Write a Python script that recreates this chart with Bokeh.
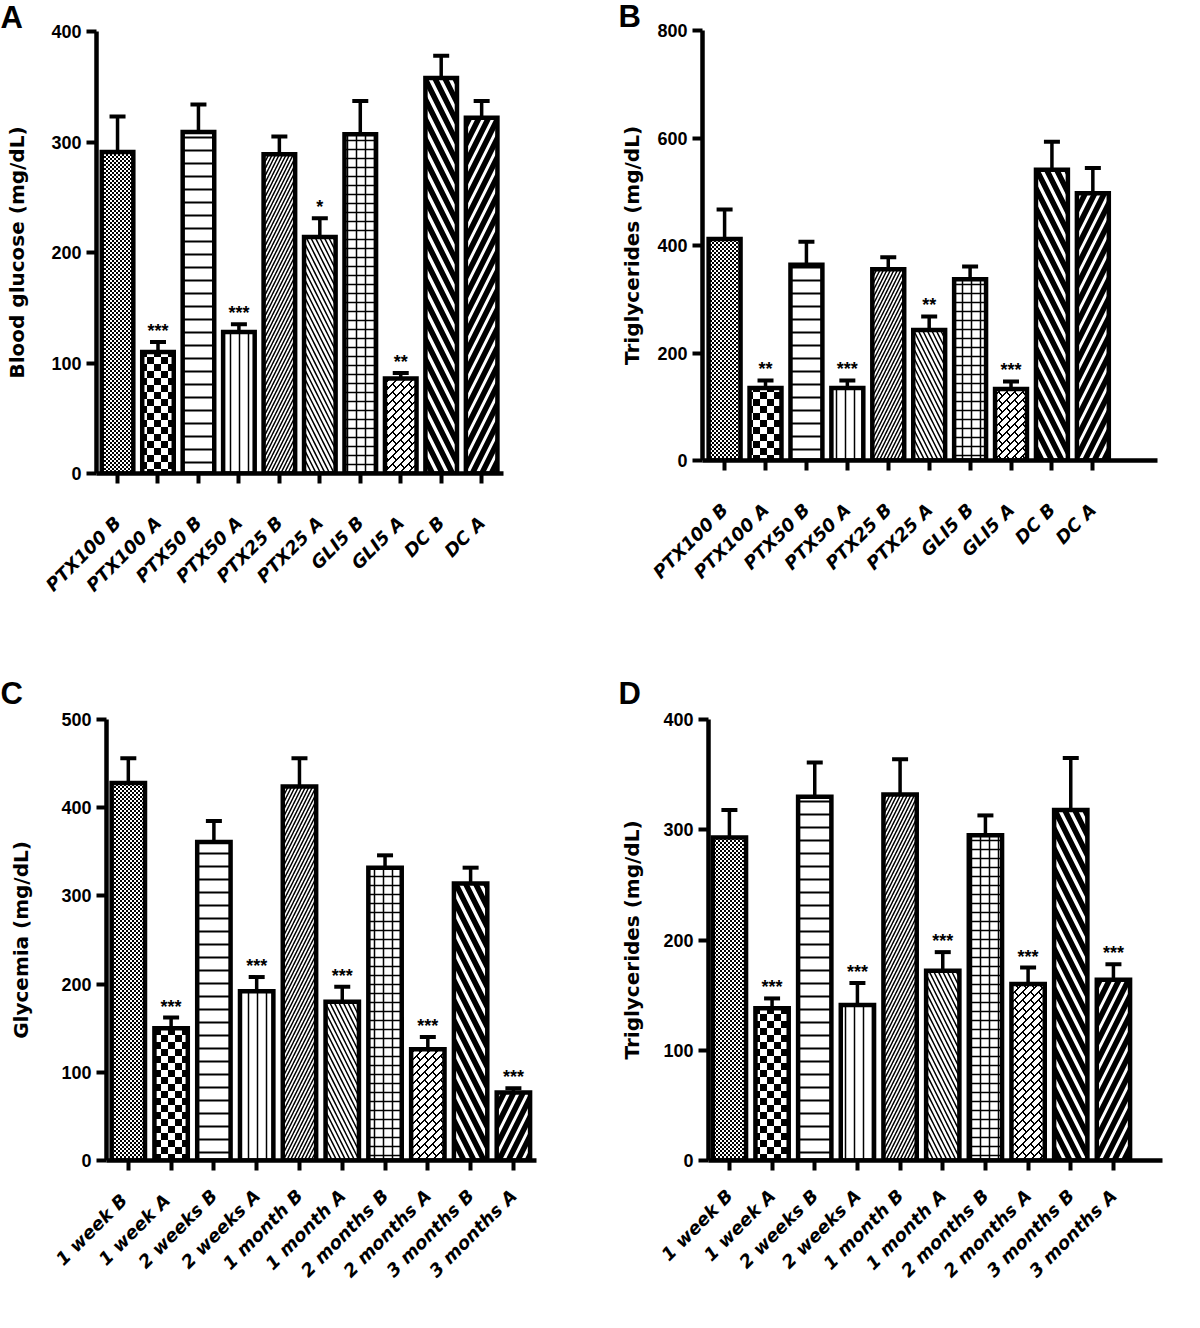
import math
import zlib
import struct
import base64
from bokeh.plotting import figure
from bokeh.layouts import column, row
from bokeh.models import (ColumnDataSource, Whisker, TeeHead, FixedTicker,
                          Range1d, ImageURLTexture, Title)
from bokeh.core.properties import value
from bokeh.embed import file_html
from bokeh.resources import INLINE

# ---------------- data ----------------
cats_ab = ["PTX100 B", "PTX100 A", "PTX50 B", "PTX50 A", "PTX25 B",
           "PTX25 A", "GLI5 B", "GLI5 A", "DC B", "DC A"]
glucose = [291, 110, 309, 128, 289, 214, 307, 86, 358, 322]
glucose_err = [32, 9, 25, 7, 16, 17, 30, 5, 20, 15]
glucose_sig = ["", "***", "", "***", "", "*", "", "**", "", ""]

trig_b = [412, 135, 364, 135, 356, 243, 337, 133, 541, 497]
trig_b_err = [55, 14, 43, 14, 22, 25, 24, 14, 52, 47]
trig_b_sig = ["", "**", "", "***", "", "**", "", "***", "", ""]

cats_c = ["1 week  B", "1 week  A", "2 weeks B", "2 weeks A", "1 month B",
          "1 month A", "2 months B", "2 months A", "3 months B", "3 months A"]
cats_d = ["1 week B", "1 week A", "2 weeks B", "2 weeks A", "1 month B",
          "1 month A", "2 months B", "2 months A", "3 months B", "3 months A"]
glycemia = [428, 150, 361, 192, 424, 180, 332, 126, 314, 77]
glycemia_err = [28, 12, 24, 16, 32, 17, 14, 14, 18, 5]
glycemia_sig = ["", "***", "", "***", "", "***", "", "***", "", "***"]

trig_d = [293, 138, 330, 141, 332, 172, 295, 160, 318, 164]
trig_d_err = [25, 9, 31, 20, 32, 17, 18, 15, 47, 14]
trig_d_sig = ["", "***", "", "***", "", "***", "", "***", "", "***"]


# ---------------- pattern textures (small PNG tiles) ----------------
def tile_png(w, h, black):
    raw = b"".join(b"\x00" + bytes(0 if black(x, y) else 255 for x in range(w))
                   for y in range(h))

    def chunk(t, d):
        return (struct.pack(">I", len(d)) + t + d +
                struct.pack(">I", zlib.crc32(t + d) & 0xffffffff))
    data = (b"\x89PNG\r\n\x1a\n" +
            chunk(b"IHDR", struct.pack(">IIBBBBB", w, h, 8, 0, 0, 0, 0)) +
            chunk(b"IDAT", zlib.compress(raw)) + chunk(b"IEND", b""))
    return "data:image/png;base64," + base64.b64encode(data).decode()


TEXTURES = {
    "fine_checker": ImageURLTexture(url=tile_png(
        4, 4, lambda x, y: ((x // 2) + (y // 2)) % 2 == 0)),
    "checker": ImageURLTexture(url=tile_png(
        14, 14, lambda x, y: ((x // 7) + (y // 7)) % 2 == 0)),
    "brick": ImageURLTexture(url=tile_png(
        8, 8, lambda x, y: ((x + y) % 8 in (7, 0)) or
        (((x - y) % 8 in (0, 1)) and 1 <= x <= 4))),
}
PATTERNS = ["fine_checker", "checker", "horizontal_line", "vertical_line",
            "right_diagonal_line", "left_diagonal_line", "cross", "brick",
            "left_diagonal_line", "right_diagonal_line"]
HSCALE = [6, 14, 13, 9, 7, 9, 9, 10, 20, 19]
HWEIGHT = [1, 1, 2, 1.5, 1.5, 1.5, 1.5, 1.5, 5.5, 5.5]

FONT = "Liberation Sans"
LFONT = "DejaVu Sans"


def panel(letter, cats, vals, errs, sigs, ylabel, ymax, ystep,
          width, height, mbl, mbt, mbr, mbb, xr, loff, lstand, xstand,
          ystand):
    p = figure(width=width, height=height, output_backend="svg",
               toolbar_location=None, x_range=Range1d(*xr),
               y_range=Range1d(0, ymax),
               min_border_left=mbl, min_border_top=mbt,
               min_border_right=mbr, min_border_bottom=mbb)
    p.outline_line_color = None
    p.grid.visible = False
    p.background_fill_color = "white"

    p.add_layout(Title(text=letter, align="left", offset=loff,
                       standoff=lstand, text_font=FONT,
                       text_font_size="31px", text_font_style="bold",
                       text_color="black"), "above")

    xs = list(range(len(cats)))
    src = ColumnDataSource(dict(
        x=xs, top=vals, upper=[v + e for v, e in zip(vals, errs)],
        sig=sigs, pat=PATTERNS, hs=HSCALE, hw=HWEIGHT))

    wh = Whisker(source=src, base="x", upper="upper", lower="top",
                 line_width=3.5, line_color="black",
                 upper_head=TeeHead(size=16, line_width=4, line_color="black"),
                 lower_head=None, level="underlay")
    p.add_layout(wh)

    p.vbar(x="x", top="top", width=0.78, source=src,
           fill_color="white", line_color="black", line_width=4.5,
           line_join="miter",
           hatch_pattern="pat", hatch_scale="hs", hatch_weight="hw",
           hatch_color="black", hatch_extra=TEXTURES)

    p.text(x="x", y="upper", text="sig", source=src,
           text_align="center", text_baseline="bottom", y_offset=-1,
           text_font=value(FONT), text_font_size="18px",
           text_font_style="bold", text_color="black")

    for ax in (p.xaxis[0], p.yaxis[0]):
        ax.axis_line_width = 4.5
        ax.axis_line_color = "black"
        ax.major_tick_line_width = 4
        ax.major_tick_line_color = "black"
        ax.major_tick_out = 10
        ax.major_tick_in = 0
        ax.minor_tick_line_color = None
        ax.major_label_text_color = "black"
        ax.major_label_text_font_style = "bold"

    p.xaxis.ticker = FixedTicker(ticks=xs)
    p.xaxis.major_label_overrides = {i: c for i, c in enumerate(cats)}
    p.xaxis.major_label_orientation = math.pi / 4
    p.xaxis.major_label_text_font = LFONT
    p.xaxis.major_label_text_font_size = "18px"
    p.xaxis.major_label_text_font_style = "bold italic"
    p.xaxis.major_label_standoff = xstand

    p.yaxis.ticker = FixedTicker(ticks=list(range(0, ymax + 1, ystep)))
    p.yaxis.major_label_text_font = FONT
    p.yaxis.major_label_text_font_size = "18px"
    p.yaxis.major_label_standoff = 5
    p.yaxis.axis_label = ylabel
    p.yaxis.axis_label_text_font = LFONT
    p.yaxis.axis_label_text_font_style = "bold"
    p.yaxis.axis_label_text_font_size = "20px"
    p.yaxis.axis_label_text_color = "black"
    p.yaxis.axis_label_standoff = ystand
    return p


# page coordinates (no body margin): top row 0..664, bottom row 664..1324
pA = panel("A", cats_ab, glucose, glucose_err, glucose_sig,
           "Blood glucose (mg/dL)", 400, 100,
           606, 664, 96, 29, 103, 191, (-0.52, 9.54), -96, -6, 36, 19)
pB = panel("B", cats_ab, trig_b, trig_b_err, trig_b_sig,
           "Triglycerides (mg/dL)", 800, 200,
           590, 664, 96, 26, 39, 204, (-0.54, 10.58), -84, -7, 36, 10)
pC = panel("C", cats_c, glycemia, glycemia_err, glycemia_sig,
           "Glycemia (mg/dL)", 500, 100,
           606, 660, 106, 55, 70, 164, (-0.51, 9.54), -106, 17, 22, 25)
pD = panel("D", cats_d, trig_d, trig_d_err, trig_d_sig,
           "Triglycerides (mg/dL)", 400, 100,
           590, 660, 102, 55, 34, 164, (-0.49, 10.15), -90, 17, 22, 16)

layout = column(row(column(pA), column(pB)), row(column(pC), column(pD)))
open("out.html", "w").write(file_html(layout, INLINE))
